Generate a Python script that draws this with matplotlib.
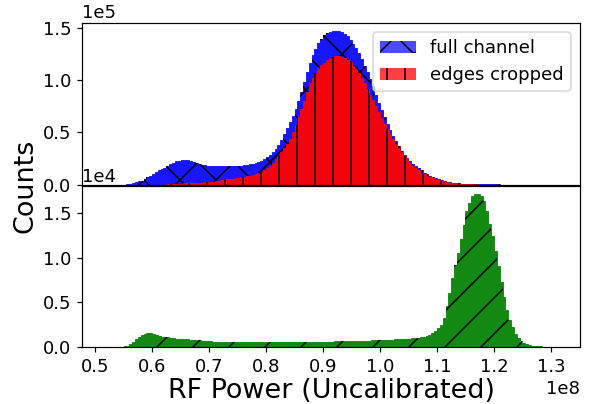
import numpy as np
import matplotlib
matplotlib.use("Agg")
import matplotlib.pyplot as plt
from matplotlib.patches import Patch
from matplotlib.ticker import MultipleLocator

# Histogram bins (RF power, uncalibrated): edges from 0.52e8 to 1.31e8, width 0.005e8
bin_start = 0.52e8
bin_width = 0.005e8
n_bins = 158

# Counts per bin, in thousands
full_channel_k = [
    0, 0, 0, 0, 0, 0, 0, 0.2,
    0.5, 1.2, 2.0, 3.0, 3.8, 5.0, 6.8, 8.5,
    10.3, 12.0, 13.5, 14.8, 16.3, 18.0, 19.6, 21.0,
    22.2, 23.0, 23.5, 23.7, 23.4, 22.5, 21.5, 20.6,
    19.8, 19.0, 18.5, 18.2, 17.9, 17.7, 17.6, 17.6,
    17.5, 17.5, 17.5, 17.6, 17.6, 17.7, 17.9, 18.1,
    18.3, 18.6, 19.2, 19.9, 20.8, 21.8, 23.0, 24.7,
    26.5, 28.5, 31.5, 34.5, 38.0, 42.5, 48.0, 54.0,
    59.5, 66.0, 72.0, 80.0, 89.0, 98.0, 108.0, 117.0,
    124.0, 130.0, 135.5, 140.0, 143.0, 145.0, 146.5, 147.3,
    147.5, 147.3, 146.0, 144.0, 142.0, 139.0, 135.0, 131.0,
    126.0, 120.0, 114.0, 108.0, 101.0, 94.0, 86.0, 78.0,
    71.0, 64.5, 58.0, 52.0, 46.5, 41.5, 36.5, 32.5,
    28.5, 25.5, 22.5, 20.0, 17.5, 15.5, 13.5, 11.5,
    10.0, 8.5, 7.2, 6.0, 5.0, 4.0, 3.2, 2.6,
    2.1, 1.7, 1.4, 1.1, 0.9, 0.8, 0.7, 0.6,
    0.5, 0.45, 0.15, 0.1, 0.08, 0.05, 0.03, 0.02,
    0.01, 0.01, 0, 0, 0, 0, 0, 0,
    0, 0, 0, 0, 0, 0, 0, 0,
    0, 0, 0, 0, 0, 0,
]

edges_cropped_k = [
    0, 0, 0, 0, 0, 0, 0, 0,
    0, 0, 0, 0, 0, 0, 0, 0,
    0, 0, 0, 0, 0, 0.05, 0.1, 0.2,
    0.3, 0.6, 0.9, 1.1, 1.3, 1.5, 1.6, 1.7,
    1.8, 1.9, 2.0, 2.1, 2.4, 2.8, 3.2, 3.5,
    4.0, 4.4, 4.8, 5.2, 5.5, 5.9, 6.3, 6.8,
    7.2, 7.8, 8.5, 9.3, 10.2, 11.0, 12.0, 13.5,
    15.5, 18.0, 21.0, 24.0, 27.5, 31.0, 35.0, 39.0,
    44.0, 50.0, 57.0, 65.0, 72.0, 80.0, 89.0, 97.0,
    102.0, 107.0, 111.0, 114.5, 117.0, 119.0, 121.0, 122.5,
    123.0, 123.0, 122.0, 121.0, 119.5, 117.5, 114.0, 110.5,
    106.5, 102.0, 97.0, 92.0, 86.0, 81.0, 75.0, 69.5,
    64.0, 58.5, 53.0, 48.0, 43.5, 39.0, 35.0, 31.0,
    27.5, 24.0, 21.0, 18.0, 15.5, 13.5, 11.5, 9.8,
    8.3, 7.0, 5.8, 4.8, 4.0, 3.3, 2.7, 2.2,
    1.8, 1.5, 1.2, 1.0, 0.8, 0.7, 0.6, 0.5,
    0.45, 0.4, 0, 0, 0, 0, 0, 0,
    0, 0, 0, 0, 0, 0, 0, 0,
    0, 0, 0, 0, 0, 0, 0, 0,
    0, 0, 0, 0, 0, 0,
]

lower_panel_k = [
    0, 0, 0, 0, 0.02, 0.05, 0.08, 0.15,
    0.3, 0.55, 0.85, 1.1, 1.3, 1.45, 1.53, 1.52,
    1.45, 1.35, 1.25, 1.17, 1.12, 1.07, 1.03, 0.98,
    0.95, 0.92, 0.9, 0.88, 0.85, 0.82, 0.78, 0.76,
    0.74, 0.71, 0.68, 0.65, 0.63, 0.61, 0.6, 0.59,
    0.58, 0.57, 0.57, 0.56, 0.56, 0.55, 0.55, 0.54,
    0.54, 0.54, 0.53, 0.53, 0.53, 0.53, 0.52, 0.53,
    0.53, 0.52, 0.53, 0.53, 0.53, 0.52, 0.53, 0.53,
    0.54, 0.54, 0.54, 0.55, 0.55, 0.56, 0.56, 0.57,
    0.57, 0.58, 0.58, 0.59, 0.59, 0.6, 0.6, 0.61,
    0.62, 0.62, 0.63, 0.64, 0.65, 0.66, 0.67, 0.68,
    0.69, 0.7, 0.7, 0.71, 0.72, 0.74, 0.75, 0.77,
    0.78, 0.8, 0.81, 0.83, 0.84, 0.86, 0.87, 0.89,
    0.9, 0.92, 0.95, 0.98, 1.02, 1.06, 1.1, 1.15,
    1.22, 1.35, 1.55, 1.8, 2.1, 2.5, 3.3, 4.6,
    6.1, 7.7, 9.2, 10.6, 12.1, 13.7, 15.2, 16.2,
    16.9, 17.2, 17.2, 16.9, 16.4, 15.3, 13.8, 12.4,
    10.8, 9.1, 7.3, 5.6, 4.2, 3.0, 2.2, 1.5,
    1.05, 0.7, 0.48, 0.32, 0.22, 0.15, 0.1, 0.08,
    0.06, 0.04, 0.03, 0.02, 0.01, 0,
]

labels = ["full channel", "edges cropped"]

lefts = bin_start + bin_width * np.arange(n_bins)
full_channel = np.array(full_channel_k) * 1e3
edges_cropped = np.array(edges_cropped_k) * 1e3
lower_panel = np.array(lower_panel_k) * 1e3

plt.rcParams['hatch.linewidth'] = 1.0
plt.rcParams['font.family'] = ['DejaVu Sans']

W, H, DPI = 591, 404, 108
fig = plt.figure(figsize=(W / DPI, H / DPI), dpi=DPI)
ax1 = fig.add_axes([82 / W, 1 - 184.5 / H, 498 / W, 161.5 / H])
ax2 = fig.add_axes([82 / W, 1 - 347 / H, 498 / W, 161 / H], sharex=ax1)


def hist_bars(ax, values, color, hatch):
    # filled bars (edges in the same colour so neighbouring bars join seamlessly)
    ax.bar(lefts, values, width=bin_width, align='edge',
           facecolor=color, edgecolor=color, linewidth=0.6)
    # hatch overlay in black
    ax.bar(lefts, values, width=bin_width, align='edge',
           fill=False, hatch=hatch, edgecolor='black', linewidth=0)


hist_bars(ax1, full_channel, '#1717ff', 'x')
hist_bars(ax1, edges_cropped, '#f2040c', '|')
hist_bars(ax2, lower_panel, '#138813', '/')

handles = [Patch(facecolor='blue', alpha=0.7, hatch='x'),
           Patch(facecolor='red', alpha=0.75, hatch='|')]
ax1.legend(handles, labels, loc='upper right', fontsize=12)

ax1.set_xlim(0.477e8, 1.351e8)
ax1.set_ylim(0, 1.549e5)
ax2.set_ylim(0, 1.806e4)
ax1.yaxis.set_major_locator(MultipleLocator(0.5e5))
ax2.yaxis.set_major_locator(MultipleLocator(0.5e4))
ax2.xaxis.set_major_locator(MultipleLocator(0.1e8))
for ax in (ax1, ax2):
    ax.ticklabel_format(axis='y', style='sci', scilimits=(0, 0))
    ax.tick_params(labelsize=12)
    ax.yaxis.get_offset_text().set_fontsize(12)
ax2.ticklabel_format(axis='x', style='sci', scilimits=(0, 0))
ax2.xaxis.get_offset_text().set_fontsize(12)
ax1.tick_params(axis='x', labelbottom=False)
ax1.xaxis.get_offset_text().set_visible(False)

ax2.set_xlabel('RF Power (Uncalibrated)', fontsize=18, labelpad=2)
fig.text(25 / W, 1 - 186 / H, 'Counts', rotation=90, fontsize=18,
         ha='center', va='center')

fig.savefig('out.png', dpi=DPI)
